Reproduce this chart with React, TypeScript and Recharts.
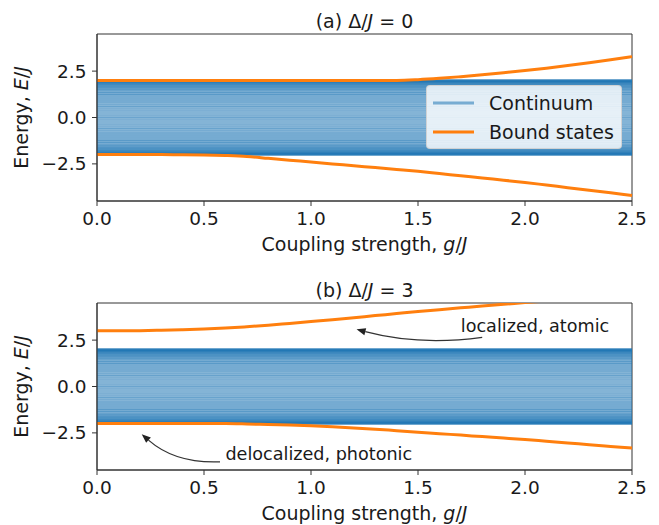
import React from 'react';
import { LineChart, Line, XAxis, YAxis, ReferenceLine, ReferenceArea, ReferenceDot, Legend } from 'recharts';

// coupling strength g/J sampled along the x axis
const couplings = [0, 0.1, 0.2, 0.3, 0.4, 0.5, 0.6, 0.7, 0.8, 0.9, 1.0, 1.1, 1.2, 1.3, 1.4, 1.5, 1.6, 1.7, 1.8, 1.9, 2.0, 2.1, 2.2, 2.3, 2.4, 2.5];

// (a) Delta/J = 0
const boundUpperA = [2.0, 2.0, 2.0, 2.0, 2.0, 2.0, 2.0, 2.0, 2.0, 2.0, 2.0, 2.0, 2.0, 2.0, 2.0, 2.04, 2.11, 2.2, 2.3, 2.41, 2.53, 2.66, 2.8, 2.95, 3.11, 3.28];
const boundLowerA = [-2.0, -2.0, -2.0, -2.0, -2.01, -2.02, -2.05, -2.1, -2.2, -2.3, -2.4, -2.5, -2.6, -2.7, -2.8, -2.9, -3.02, -3.14, -3.26, -3.38, -3.5, -3.64, -3.78, -3.92, -4.06, -4.2];

// (b) Delta/J = 3
const boundUpperB = [3.0, 3.0, 3.01, 3.03, 3.06, 3.1, 3.15, 3.22, 3.3, 3.4, 3.5, 3.6, 3.71, 3.82, 3.93, 4.04, 4.14, 4.24, 4.34, 4.43, 4.52, 4.61, 4.7, 4.8, 4.9, 5.0];
const boundLowerB = [-2.0, -2.0, -2.0, -2.0, -2.0, -2.0, -2.0, -2.02, -2.05, -2.08, -2.12, -2.17, -2.23, -2.3, -2.38, -2.46, -2.54, -2.62, -2.7, -2.78, -2.86, -2.95, -3.04, -3.14, -3.23, -3.32];

// continuum levels of the waveguide band (E/J)
const continuumLevels = [
  -2.0, -1.98, -1.97, -1.94, -1.91, -1.86, -1.82, -1.76, -1.7, -1.63, -1.56, -1.48, -1.39,
  -1.3, -1.21, -1.1, -1.0, -0.89, -0.78, -0.66, -0.55, -0.43, -0.31, -0.18, -0.06,
  0.06, 0.18, 0.31, 0.43, 0.55, 0.66, 0.78, 0.89, 1.0, 1.1, 1.21, 1.3, 1.39,
  1.48, 1.56, 1.63, 1.7, 1.76, 1.82, 1.86, 1.91, 1.94, 1.97, 1.98, 2.0,
];

const xTicks = [0, 0.5, 1.0, 1.5, 2.0, 2.5];
const yTicks = [-2.5, 0, 2.5];

const legendItems = [
  { name: 'Continuum', color: 'rgba(31,119,180,0.55)' },
  { name: 'Bound states', color: '#ff7f0e' },
];

// annotations of panel (b): text anchor, arrow tail and arrow head in data coords
const notesB = [
  { text: 'localized, atomic', textG: 1.7, textE: 3.26, tailG: 1.8, tailE: 2.65, headG: 1.213, headE: 3.08, bend: 0.1 },
  { text: 'delocalized, photonic', textG: 0.6, textE: -3.66, tailG: 0.575, tailE: -4.06, headG: 0.209, headE: -2.57, bend: 0.2 },
];

const FONT = 'DejaVu Sans, sans-serif';
const INK = '#1a1a1a';
const fmt = (v: number) => v.toFixed(1).replace('-', '\u2212');

const CurvedArrow = (props: any) => {
  const { x1, y1, x2, y2, bend } = props;
  if ([x1, y1, x2, y2].some((v) => typeof v !== 'number')) return null;
  const mx = (x1 + x2) / 2;
  const my = (y1 + y2) / 2;
  const dx = x2 - x1;
  const dy = y2 - y1;
  const cx = mx + bend * dy;
  const cy = my - bend * dx;
  // arrow head along tangent at the head
  const tx = x2 - cx;
  const ty = y2 - cy;
  const len = Math.hypot(tx, ty) || 1;
  const ux = tx / len;
  const uy = ty / len;
  const hl = 9;
  const hw = 3.6;
  const bx = x2 - ux * hl;
  const by = y2 - uy * hl;
  return (
    <g>
      <path d={`M${x1},${y1} Q${cx},${cy} ${bx},${by}`} fill="none" stroke="#333" strokeWidth={1.3} />
      <path d={`M${x2},${y2} L${bx - uy * hw},${by + ux * hw} L${bx + uy * hw},${by - ux * hw} Z`} fill="#222" />
    </g>
  );
};

const LegendBox = () => (
  <div
    style={{
      width: 196,
      height: 64,
      boxSizing: 'border-box',
      background: 'rgba(255,255,255,0.8)',
      border: '1px solid rgba(204,204,204,0.8)',
      borderRadius: 4,
      fontFamily: FONT,
      fontSize: 19,
      color: INK,
      position: 'relative',
    }}
  >
    {legendItems.map((it, i) => (
      <div key={it.name} style={{ position: 'absolute', left: 0, top: i === 0 ? 5 : 34, height: 24, display: 'flex', alignItems: 'center' }}>
        <svg width={56} height={24} style={{ display: 'block' }}>
          <line x1={6} x2={47} y1={12} y2={12} stroke={it.color} strokeWidth={3} />
        </svg>
        <span style={{ marginLeft: 6, whiteSpace: 'nowrap', lineHeight: '24px' }}>{it.name}</span>
      </div>
    ))}
  </div>
);

type PanelProps = {
  top: number;
  tag: string;
  delta: string;
  upper: number[];
  lower: number[];
  showLegend?: boolean;
  notes?: typeof notesB;
};

const Panel = ({ top, tag, delta, upper, lower, showLegend, notes }: PanelProps) => {
  const rows = couplings.map((g, i) => ({ g, upper: upper[i], lower: lower[i] }));
  return (
    <div style={{ position: 'absolute', left: 0, top, width: 659, height: 262 }}>
      <div
        style={{
          position: 'absolute',
          left: 97,
          width: 535,
          top: 10.5,
          textAlign: 'center',
          fontFamily: FONT,
          fontSize: 19,
          lineHeight: '20px',
          color: INK,
          whiteSpace: 'nowrap',
        }}
      >
        {tag} Δ/<i>J</i> = {delta}
      </div>
      <LineChart width={659} height={262} data={rows} margin={{ top: 34, right: 27, left: 0, bottom: 0 }}>
        <XAxis
          dataKey="g"
          type="number"
          domain={[0, 2.5]}
          ticks={xTicks}
          interval={0}
          tickFormatter={fmt}
          height={61}
          tickSize={5}
          tickMargin={6}
          stroke="#333"
          tick={{ fill: INK, fontSize: 18.5, fontFamily: FONT }}
          label={{
            content: (p: any) => {
              const vb = p.viewBox || { x: 97, y: 201, width: 535 };
              return (
                <text x={vb.x + vb.width / 2} y={vb.y + 43} textAnchor="middle" dominantBaseline="central" fill={INK} fontSize={19} fontFamily={FONT}>
                  Coupling strength, <tspan fontStyle="italic">g</tspan>/<tspan fontStyle="italic">J</tspan>
                </text>
              );
            },
          }}
        />
        <YAxis
          type="number"
          domain={[-4.5, 4.5]}
          allowDataOverflow
          ticks={yTicks}
          interval={0}
          tickFormatter={fmt}
          width={97}
          tickSize={5}
          tickMargin={5.5}
          stroke="#333"
          tick={{ fill: INK, fontSize: 18.5, fontFamily: FONT }}
          label={{
            content: (p: any) => {
              const vb = p.viewBox || { y: 34, height: 167 };
              const cy = vb.y + vb.height / 2;
              return (
                <text x={20.5} y={cy} transform={`rotate(-90 20.5 ${cy})`} textAnchor="middle" dominantBaseline="central" fill={INK} fontSize={19} fontFamily={FONT}>
                  Energy, <tspan fontStyle="italic">E</tspan>/<tspan fontStyle="italic">J</tspan>
                </text>
              );
            },
          }}
        />
        {continuumLevels.map((e, i) => (
          <ReferenceLine key={`c${i}`} y={e} stroke="#1f77b4" strokeOpacity={0.55} strokeWidth={2.5} />
        ))}
        <Line dataKey="upper" type="monotone" stroke="#ff7f0e" strokeWidth={3} dot={false} activeDot={false} isAnimationActive={false} />
        <Line dataKey="lower" type="monotone" stroke="#ff7f0e" strokeWidth={3} dot={false} activeDot={false} isAnimationActive={false} />
        <ReferenceArea x1={0} x2={2.5} y1={-4.5} y2={4.5} fill="none" fillOpacity={0} stroke="#333" strokeWidth={1} />
        {(notes || []).map((n, i) => (
          <ReferenceLine
            key={`a${i}`}
            segment={[{ x: n.tailG, y: n.tailE }, { x: n.headG, y: n.headE }]}
            shape={(p: any) => <CurvedArrow {...p} bend={n.bend} />}
          />
        ))}
        {(notes || []).map((n, i) => (
          <ReferenceDot
            key={`t${i}`}
            x={n.textG}
            y={n.textE}
            r={0}
            shape={(p: any) => (
              <text x={p.cx} y={p.cy} textAnchor="start" dominantBaseline="central" fill={INK} fontSize={17.6} fontFamily={FONT}>
                {n.text}
              </text>
            )}
          />
        ))}
        {showLegend && (
          <Legend
            layout="vertical"
            align="center"
            verticalAlign="middle"
            content={() => <LegendBox />}
            wrapperStyle={{ left: 426, top: 85, width: 196, height: 64 }}
          />
        )}
      </LineChart>
    </div>
  );
};

export default function App() {
  return (
    <div style={{ position: 'absolute', left: 0, top: 0, width: 659, height: 525, background: '#fff', overflow: 'hidden' }}>
      <Panel top={0} tag="(a)" delta="0" upper={boundUpperA} lower={boundLowerA} showLegend />
      <Panel top={269.3} tag="(b)" delta="3" upper={boundUpperB} lower={boundLowerB} notes={notesB} />
    </div>
  );
}
